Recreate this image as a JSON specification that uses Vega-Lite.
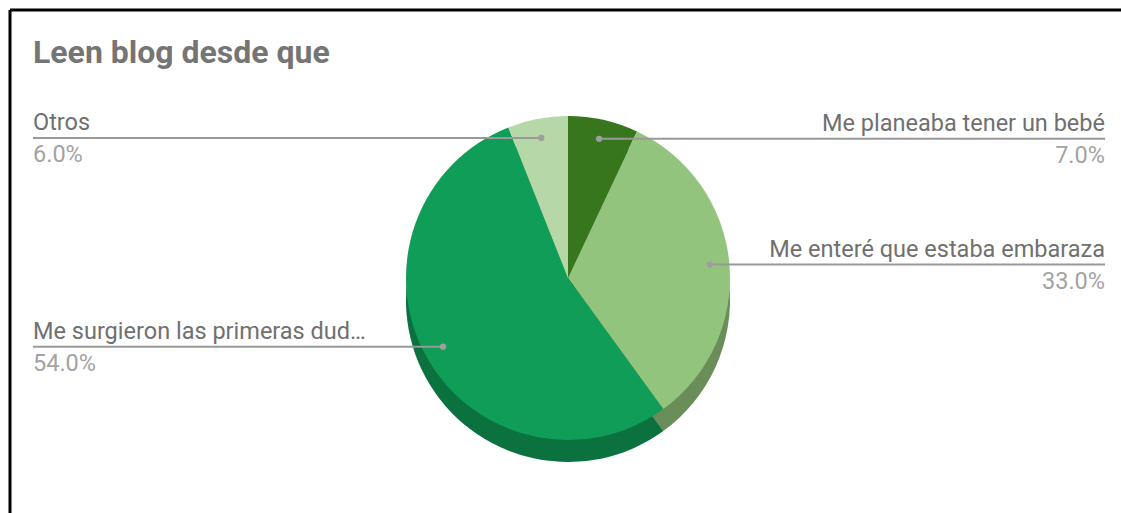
{
  "$schema": "https://vega.github.io/schema/vega-lite/v6.json",
  "width": 1111,
  "height": 503,
  "padding": {"left": 10, "top": 10, "right": 0, "bottom": 0},
  "autosize": {"type": "none"},
  "background": "white",
  "view": {"stroke": null},
  "config": {"font": "Roboto"},
  "title": {
    "text": "Leen blog desde que",
    "anchor": "start",
    "frame": "group",
    "font": "Roboto",
    "fontSize": 32,
    "fontWeight": "bold",
    "color": "#757575",
    "baseline": "alphabetic",
    "offset": -86,
    "dx": 23
  },
  "data": {
    "values": [
      {"respuesta": "Me planeaba tener un bebé", "valor": 0.07, "orden": 1, "lado": "derecha"},
      {"respuesta": "Me enteré que estaba embaraza", "valor": 0.33, "orden": 2, "lado": "derecha"},
      {"respuesta": "Me surgieron las primeras dud…", "valor": 0.54, "orden": 3, "lado": "izquierda"},
      {"respuesta": "Otros", "valor": 0.06, "orden": 4, "lado": "izquierda"}
    ]
  },
  "layer": [
    {
      "data": {"values": [{}]},
      "mark": {"type": "rule", "color": "black", "strokeWidth": 3},
      "encoding": {
        "x": {"datum": -3.4444, "type": "quantitative", "scale": {"domain": [-3.4444, 3.4136], "nice": false, "zero": false}, "axis": null}
      }
    },
    {
      "data": {"values": [{}]},
      "mark": {"type": "rule", "color": "black", "strokeWidth": 3},
      "encoding": {
        "y": {"datum": 1.6543, "type": "quantitative", "scale": {"domain": [-1.4506, 1.6543], "nice": false, "zero": false}, "axis": null}
      }
    },
    {
      "transform": [
        {"window": [{"op": "sum", "field": "valor", "as": "acum"}], "sort": [{"field": "orden"}], "frame": [null, 0]},
        {"calculate": "2*PI*(datum.acum - datum.valor/2)", "as": "angulo"},
        {"calculate": "0.88*sin(datum.angulo)", "as": "px"},
        {"calculate": "0.88*cos(datum.angulo)", "as": "py"},
        {"calculate": "datum.lado == 'izquierda' ? -3.3025 : 3.3148", "as": "borde"}
      ],
      "layer": [
        {
          "mark": {"type": "arc", "outerRadius": 162, "yOffset": 22},
          "encoding": {
            "x": {"datum": 0, "type": "quantitative", "scale": {"domain": [-3.4444, 3.4136], "nice": false, "zero": false}, "axis": null},
            "y": {"datum": 0, "type": "quantitative", "scale": {"domain": [-1.4506, 1.6543], "nice": false, "zero": false}, "axis": null},
            "theta": {"field": "valor", "type": "quantitative", "stack": true},
            "order": {"field": "orden", "type": "quantitative"},
            "color": {
              "field": "respuesta",
              "type": "nominal",
              "scale": {
                "domain": ["Me planeaba tener un bebé", "Me enteré que estaba embaraza", "Me surgieron las primeras dud…", "Otros"],
                "range": ["#38761d", "#93c47d", "#0f9d58", "#b6d7a8"]
              },
              "legend": null
            }
          }
        },
        {
          "mark": {"type": "arc", "outerRadius": 162, "yOffset": 22, "color": "black", "opacity": 0.28},
          "encoding": {
            "x": {"datum": 0, "type": "quantitative", "scale": {"domain": [-3.4444, 3.4136], "nice": false, "zero": false}, "axis": null},
            "y": {"datum": 0, "type": "quantitative", "scale": {"domain": [-1.4506, 1.6543], "nice": false, "zero": false}, "axis": null},
            "theta": {"field": "valor", "type": "quantitative", "stack": true},
            "order": {"field": "orden", "type": "quantitative"}
          }
        },
        {
          "mark": {"type": "arc", "outerRadius": 162},
          "encoding": {
            "x": {"datum": 0, "type": "quantitative", "scale": {"domain": [-3.4444, 3.4136], "nice": false, "zero": false}, "axis": null},
            "y": {"datum": 0, "type": "quantitative", "scale": {"domain": [-1.4506, 1.6543], "nice": false, "zero": false}, "axis": null},
            "theta": {"field": "valor", "type": "quantitative", "stack": true},
            "order": {"field": "orden", "type": "quantitative"},
            "color": {"field": "respuesta", "type": "nominal", "legend": null}
          }
        },
        {
          "mark": {"type": "rule", "color": "#999999", "strokeWidth": 2},
          "encoding": {
            "x": {"field": "px", "type": "quantitative", "scale": {"domain": [-3.4444, 3.4136], "nice": false, "zero": false}, "axis": null},
            "x2": {"field": "borde"},
            "y": {"field": "py", "type": "quantitative", "scale": {"domain": [-1.4506, 1.6543], "nice": false, "zero": false}, "axis": null}
          }
        },
        {
          "mark": {"type": "point", "filled": true, "color": "#9e9e9e", "size": 40, "opacity": 1},
          "encoding": {
            "x": {"field": "px", "type": "quantitative", "scale": {"domain": [-3.4444, 3.4136], "nice": false, "zero": false}, "axis": null},
            "y": {"field": "py", "type": "quantitative", "scale": {"domain": [-1.4506, 1.6543], "nice": false, "zero": false}, "axis": null}
          }
        },
        {
          "transform": [{"filter": "datum.lado == 'izquierda'"}],
          "mark": {"type": "text", "align": "left", "baseline": "alphabetic", "dy": -8, "fontSize": 23.5, "color": "#707070", "font": "Roboto"},
          "encoding": {
            "x": {"field": "borde", "type": "quantitative", "scale": {"domain": [-3.4444, 3.4136], "nice": false, "zero": false}, "axis": null},
            "y": {"field": "py", "type": "quantitative", "scale": {"domain": [-1.4506, 1.6543], "nice": false, "zero": false}, "axis": null},
            "text": {"field": "respuesta"}
          }
        },
        {
          "transform": [{"filter": "datum.lado == 'izquierda'"}],
          "mark": {"type": "text", "align": "left", "baseline": "alphabetic", "dy": 24, "fontSize": 23.5, "color": "#a3a3a3", "font": "Roboto"},
          "encoding": {
            "x": {"field": "borde", "type": "quantitative", "scale": {"domain": [-3.4444, 3.4136], "nice": false, "zero": false}, "axis": null},
            "y": {"field": "py", "type": "quantitative", "scale": {"domain": [-1.4506, 1.6543], "nice": false, "zero": false}, "axis": null},
            "text": {"field": "valor", "format": ".1%"}
          }
        },
        {
          "transform": [{"filter": "datum.lado == 'derecha'"}],
          "mark": {"type": "text", "align": "right", "baseline": "alphabetic", "dy": -8, "fontSize": 23.5, "color": "#707070", "font": "Roboto"},
          "encoding": {
            "x": {"field": "borde", "type": "quantitative", "scale": {"domain": [-3.4444, 3.4136], "nice": false, "zero": false}, "axis": null},
            "y": {"field": "py", "type": "quantitative", "scale": {"domain": [-1.4506, 1.6543], "nice": false, "zero": false}, "axis": null},
            "text": {"field": "respuesta"}
          }
        },
        {
          "transform": [{"filter": "datum.lado == 'derecha'"}],
          "mark": {"type": "text", "align": "right", "baseline": "alphabetic", "dy": 24, "fontSize": 23.5, "color": "#a3a3a3", "font": "Roboto"},
          "encoding": {
            "x": {"field": "borde", "type": "quantitative", "scale": {"domain": [-3.4444, 3.4136], "nice": false, "zero": false}, "axis": null},
            "y": {"field": "py", "type": "quantitative", "scale": {"domain": [-1.4506, 1.6543], "nice": false, "zero": false}, "axis": null},
            "text": {"field": "valor", "format": ".1%"}
          }
        }
      ]
    }
  ]
}
